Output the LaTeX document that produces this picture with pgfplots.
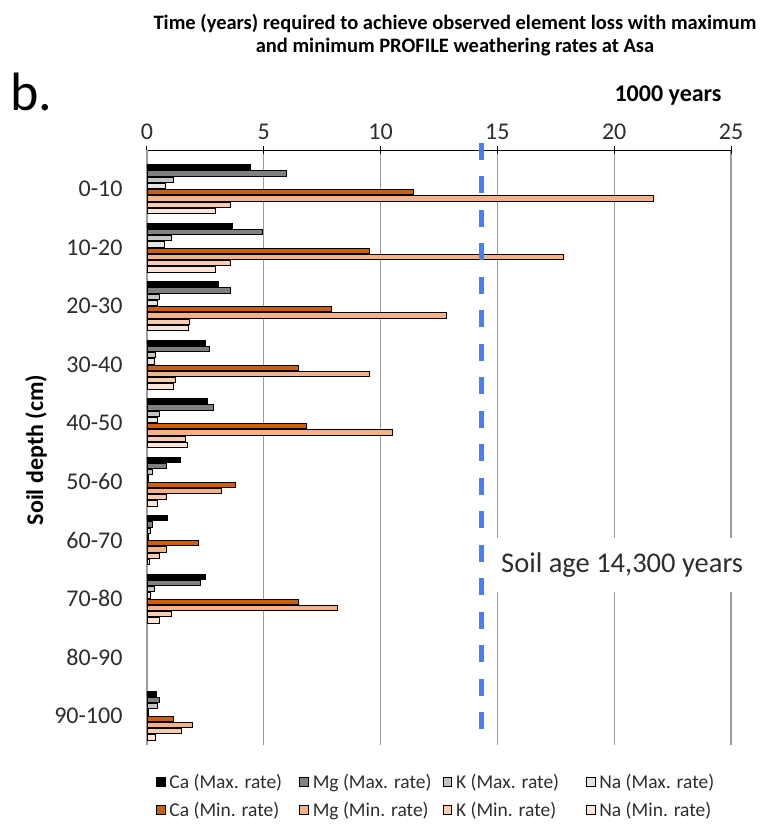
\documentclass[border=0pt]{standalone}
\usepackage{pgfplots}
\pgfplotsset{compat=1.18}
\usepackage{pgfplotstable}
\usepackage{fontspec}
\setmainfont{Carlito}
\definecolor{cmaxc}{RGB}{0,0,0}
\definecolor{mmaxc}{RGB}{128,128,128}
\definecolor{kmaxc}{RGB}{196,196,196}
\definecolor{nmaxc}{RGB}{228,228,228}
\definecolor{cminc}{RGB}{200,96,14}
\definecolor{mminc}{RGB}{244,178,134}
\definecolor{kminc}{RGB}{248,204,176}
\definecolor{nminc}{RGB}{252,229,214}
\definecolor{dashblue}{RGB}{68,128,250}
\definecolor{textgray}{RGB}{45,45,45}
\definecolor{gridgray}{RGB}{155,155,155}
\pgfplotstableread{
y cmax mmax kmax nmax cmin mmin kmin nmin
9 4.42 5.97 1.13 0.77 11.40 21.66 3.55 2.94
8 3.65 4.92 1.05 0.76 9.52 17.81 3.55 2.94
7 3.04 3.55 0.53 0.44 7.88 12.83 1.83 1.76
6 2.50 2.65 0.36 0.30 6.50 9.52 1.22 1.13
5 2.60 2.86 0.53 0.46 6.81 10.51 1.66 1.74
4 1.45 0.84 0.23 0.07 3.78 3.19 0.84 0.46
3 0.86 0.23 0.15 0.07 2.20 0.84 0.53 0.12
2 2.50 2.27 0.31 0.15 6.50 8.16 1.05 0.53
0 0.39 0.53 0.44 0.07 1.13 1.96 1.48 0.36
}\data
\pgfplotsset{sq/.style={legend image code/.code={\draw[##1,draw=black,line width=0.8pt] (0pt,-4.2pt) rectangle (8.5pt,4.2pt);}}}
\begin{document}
\begin{tikzpicture}
\useasboundingbox (0,0) rectangle (776pt,-828pt);
\begin{axis}[
  at={(147pt,-150pt)}, anchor=north west,
  width=584pt, height=595pt, scale only axis,
  xmin=0, xmax=25, ymin=-0.504, ymax=9.667,
  clip=false,
  axis x line=top, axis y line=left,
  x axis line style={-, black, line width=1pt},
  y axis line style={-, gridgray, line width=1.2pt},
  xtick={0,5,10,15,20,25},
  xmajorgrids, grid style={gridgray, line width=1.2pt},
  tick align=center, major tick length=8pt,
  xtick style={black, line width=1pt},
  ytick={0,1,2,3,4,5,6,7,8,9},
  yticklabels={90-100,80-90,70-80,60-70,50-60,40-50,30-40,20-30,10-20,0-10},
  ytick style={draw=none},
  /pgf/number format/assume math mode=true,
  x tick label style={font=\fontsize{24}{28}\selectfont, text=textgray, yshift=3pt},
  y tick label style={font=\fontsize{24}{28}\selectfont, text=textgray, xshift=-13pt},
  xbar, bar width=5.2pt,
  legend columns=4, legend cell align=left,
  legend style={draw=none, fill=none, inner sep=0pt, at={(axis description cs:0.0154,-0.0454)}, anchor=north west,
    row sep=8pt, font=\fontsize{19.5}{22}\selectfont, text=textgray,
    /tikz/every odd column/.append style={column sep=2pt}},
]
\addplot[xbar, bar shift=21.875pt, fill=cmaxc, draw=black, line width=0.8pt, sq] table[x=cmax,y=y]{\data};
\addlegendentry{\makebox[128pt][l]{Ca (Max. rate)}}
\addplot[xbar, bar shift=15.625pt, fill=mmaxc, draw=black, line width=0.8pt, sq] table[x=mmax,y=y]{\data};
\addlegendentry{\makebox[128pt][l]{Mg (Max. rate)}}
\addplot[xbar, bar shift=9.375pt, fill=kmaxc, draw=black, line width=0.8pt, sq] table[x=kmax,y=y]{\data};
\addlegendentry{\makebox[128pt][l]{K (Max. rate)}}
\addplot[xbar, bar shift=3.125pt, fill=nmaxc, draw=black, line width=0.8pt, sq] table[x=nmax,y=y]{\data};
\addlegendentry{\makebox[128pt][l]{Na (Max. rate)}}
\addplot[xbar, bar shift=-3.125pt, fill=cminc, draw=black, line width=0.8pt, sq] table[x=cmin,y=y]{\data};
\addlegendentry{\makebox[128pt][l]{Ca (Min. rate)}}
\addplot[xbar, bar shift=-9.375pt, fill=mminc, draw=black, line width=0.8pt, sq] table[x=mmin,y=y]{\data};
\addlegendentry{\makebox[128pt][l]{Mg (Min. rate)}}
\addplot[xbar, bar shift=-15.625pt, fill=kminc, draw=black, line width=0.8pt, sq] table[x=kmin,y=y]{\data};
\addlegendentry{\makebox[128pt][l]{K (Min. rate)}}
\addplot[xbar, bar shift=-21.875pt, fill=nminc, draw=black, line width=0.8pt, sq] table[x=nmin,y=y]{\data};
\addlegendentry{\makebox[128pt][l]{Na (Min. rate)}}
\addplot[sharp plot, no marks, color=dashblue, line width=5pt, dash pattern=on 17pt off 16.5pt, forget plot] coordinates {(14.3,9.79) (14.3,-0.45)};
\end{axis}
\node[fill=white, anchor=west, inner xsep=4pt, minimum height=54pt, font=\fontsize{28.5}{32}\selectfont, text=textgray] at (497pt,-565pt) {Soil age 14,300 years};
\node[align=center, font=\bfseries\fontsize{20.5}{23}\selectfont] at (455pt,-35pt) {Time (years) required to achieve observed element loss with maximum\\and minimum PROFILE weathering rates at Asa};
\node[anchor=west, inner sep=0pt, font=\fontsize{54}{60}\selectfont] at (10pt,-92pt) {b.};
\node[font=\bfseries\fontsize{24}{28}\selectfont] at (668pt,-96pt) {1000 years};
\node[rotate=90, font=\bfseries\fontsize{24}{28}\selectfont] at (36pt,-450pt) {Soil depth (cm)};
\end{tikzpicture}
\end{document}
